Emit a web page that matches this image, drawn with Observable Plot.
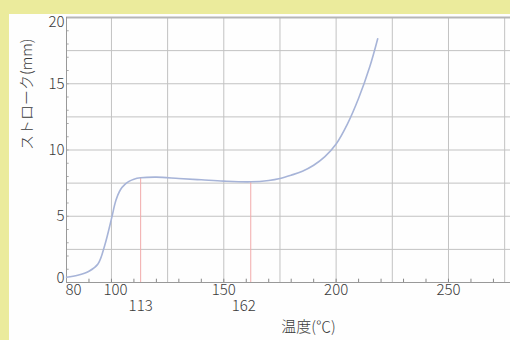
<!DOCTYPE html>
<html>
<head>
<meta charset="utf-8">
<script src="https://cdn.jsdelivr.net/npm/d3@7"></script>
<script src="https://cdn.jsdelivr.net/npm/@observablehq/plot@0.6"></script>
<style>
  html, body { margin: 0; padding: 0; width: 510px; height: 340px; overflow: hidden; background: #ebeb9c; }
  #panel { position: absolute; left: 9px; top: 14px; width: 501px; height: 326px; background: #fefefe; }
  #chart { position: absolute; left: 0; top: 0; }
</style>
</head>
<body>
<div id="panel"></div>
<div id="chart"></div>
<script>
// Data
const temps   = [80, 85, 90, 94, 97, 100, 102, 104, 106, 108, 110, 113, 120, 130, 140, 150, 162, 170, 175, 180, 185, 190, 195, 200, 205, 210, 215, 218.5];
const strokes = [0.4, 0.55, 0.85, 1.4, 2.8, 4.8, 6.2, 7.0, 7.4, 7.65, 7.8, 7.9, 7.95, 7.85, 7.75, 7.65, 7.6, 7.7, 7.85, 8.1, 8.4, 8.85, 9.5, 10.45, 11.95, 13.9, 16.3, 18.4];
const markTemps   = [113, 162];
const markStrokes = [7.9, 7.6];
const xTicks = [150, 200, 250];
const yTicks = [5, 10, 15];
const gridX = [100, 125, 150, 175, 200, 225, 250, 275];
const gridY = [2.5, 5, 7.5, 10, 12.5, 15, 17.5];
const minorX = [90, 100, 110, 120, 130, 140, 150, 160, 170, 180, 190, 200, 210, 220, 230, 240, 250, 260, 270];
const minorY = [1, 2, 3, 4, 5, 6, 7, 8, 9, 10, 11, 12, 13, 14, 15, 16, 17, 18, 19];
const xTitle = "温度(℃)";
const yTitle = "ストローク(mm)";

const rows = temps.map((t, i) => ({t, s: strokes[i]}));
const marks2 = markTemps.map((t, i) => ({t, s: markStrokes[i]}));
const txt = "#3a3a3a";

const chart = Plot.plot({
  width: 510,
  height: 340,
  marginLeft: 66,
  marginRight: 0,
  marginTop: 17,
  marginBottom: 58,
  x: {domain: [80, 277.6]},
  y: {domain: [0, 20]},
  style: {background: "transparent", fontFamily: "'Noto Sans CJK JP', 'Noto Sans', sans-serif", fontSize: "15px", color: txt},
  marks: [
    Plot.ruleX(gridX, {stroke: "#c2c2c2"}),
    Plot.ruleY(gridY, {stroke: "#c2c2c2"}),
    Plot.ruleX(minorX, {y1: 0, y2: 0.25, stroke: "#888"}),
    Plot.ruleY(minorY, {x1: 80, x2: 81.2, stroke: "#aaa"}),
    Plot.ruleY([20], {stroke: "#b5b5b5", strokeWidth: 2}),
    Plot.ruleX([80], {stroke: "#999"}),
    Plot.ruleY([0], {stroke: "#999"}),
    Plot.ruleX(marks2, {x: "t", y1: 0, y2: "s", stroke: "#f2aaaa"}),
    Plot.line(rows, {x: "t", y: "s", stroke: "#a7b4d8", strokeWidth: 1.6, curve: "catmull-rom"}),
    Plot.axisX(xTicks, {tickSize: 0, tickPadding: 2, fontWeight: 300, label: null}),
    Plot.axisX([80], {tickSize: 0, tickPadding: 2, dx: 7, fontWeight: 300, label: null}),
    Plot.axisX([100], {tickSize: 0, tickPadding: 2, dx: 4, fontWeight: 300, label: null}),
    Plot.axisX([113], {tickSize: 0, tickPadding: 18, fontWeight: 300, label: null}),
    Plot.axisX([162], {tickSize: 0, tickPadding: 18, dx: -7, fontWeight: 300, label: null}),
    Plot.axisY(yTicks, {tickSize: 0, tickPadding: 2, fontWeight: 300, label: null}),
    Plot.axisY([0], {tickSize: 0, tickPadding: 2, dy: -4, fontWeight: 300, label: null}),
    Plot.axisY([20], {tickSize: 0, tickPadding: 2, dy: 5, fontWeight: 300, label: null}),
    Plot.text([xTitle], {frameAnchor: "bottom", lineAnchor: "middle", dy: 45, dx: 20, text: d => d, fill: txt, fontWeight: 300, fontSize: 15}),
    Plot.text([yTitle], {frameAnchor: "left", lineAnchor: "middle", rotate: -90, dx: -39, text: d => d, fill: txt, fontWeight: 300, fontSize: 15})
  ]
});
document.getElementById("chart").appendChild(chart);
</script>
</body>
</html>
